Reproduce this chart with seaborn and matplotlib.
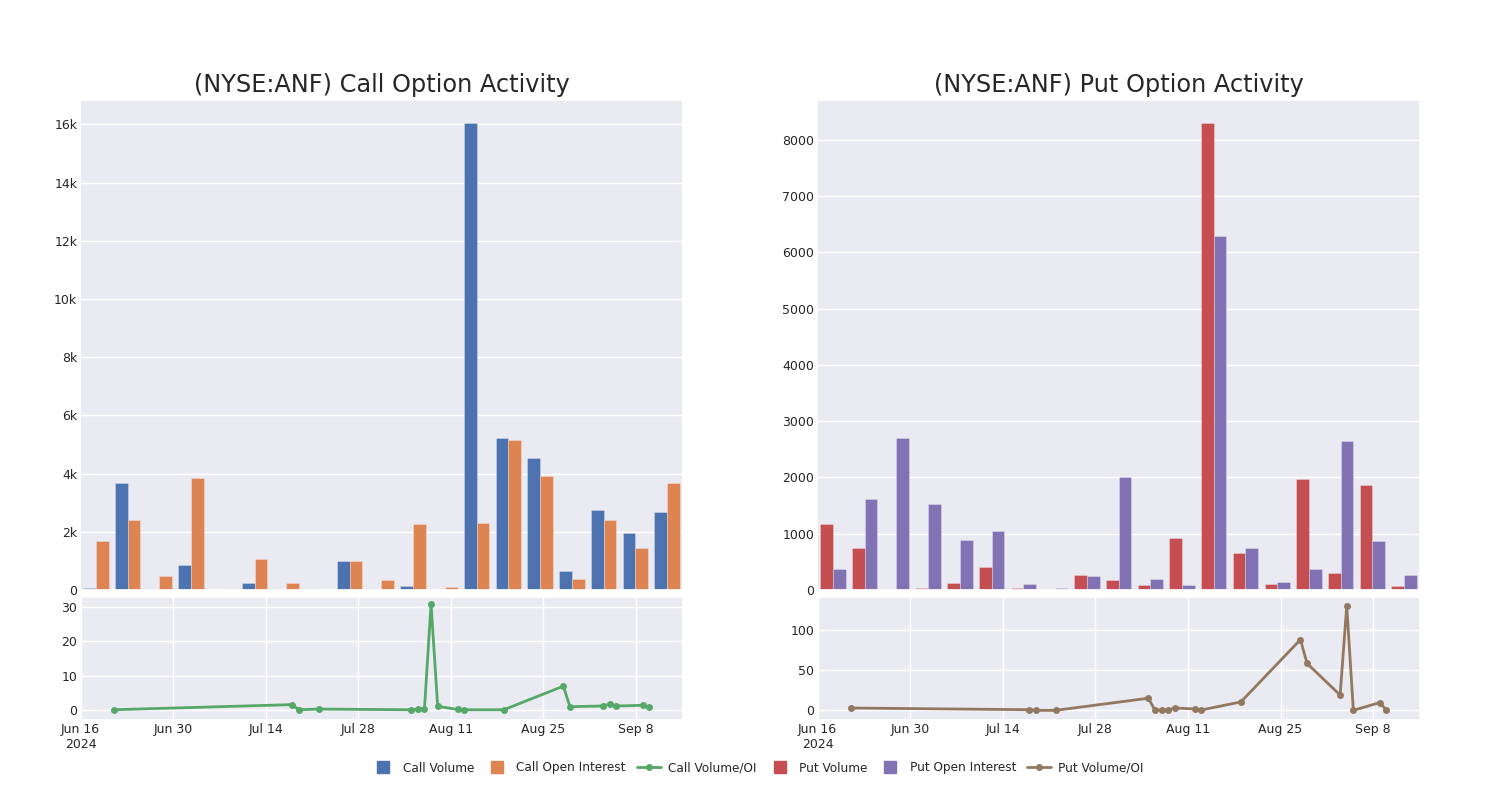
import matplotlib
matplotlib.use("Agg")
import matplotlib.pyplot as plt
from matplotlib.lines import Line2D
from matplotlib.ticker import FuncFormatter
import seaborn as sns
import pandas as pd

# trade dates (same for bars and ratio lines)
dates = ["2024-06-21", "2024-07-18", "2024-07-19", "2024-07-22", "2024-08-05",
         "2024-08-06", "2024-08-07", "2024-08-08", "2024-08-09", "2024-08-12",
         "2024-08-13", "2024-08-19", "2024-08-28", "2024-08-29", "2024-09-03",
         "2024-09-04", "2024-09-05", "2024-09-09", "2024-09-10"]

call_volume = [80, 3670, 20, 860, 0, 230, 45, 31, 1000, 45,
               130, 10, 16040, 5240, 4520, 665, 2740, 1960, 2680]
call_oi = [1690, 2410, 480, 3850, 35, 1080, 230, 1, 990, 330,
           2280, 115, 2290, 5170, 3910, 380, 2400, 1430, 3680]
call_ratio = [0.0, 1.5, 0.0, 0.2, 0.0, 0.2, 0.2, 31.0, 1.0, 0.1,
              0.0, 0.0, 6.9, 0.9, 1.1, 1.7, 1.1, 1.3, 0.7]

put_volume = [1170, 740, 10, 40, 120, 400, 30, 10, 260, 170,
              90, 930, 8290, 650, 110, 1980, 300, 1870, 70]
put_oi = [370, 1620, 2700, 1530, 890, 1040, 100, 40, 240, 2010,
          200, 80, 6280, 750, 140, 370, 2650, 870, 270]
put_ratio = [2.9, 0.8, 0.0, 0.0, 15.1, 0.4, 0.4, 0.4, 3.0, 1.7,
             0.4, 10.5, 88.0, 58.4, 19.0, 130.0, 0.0, 9.7, 0.3]

date_ticks = ["2024-06-16", "2024-06-30", "2024-07-14", "2024-07-28",
              "2024-08-11", "2024-08-25", "2024-09-08"]
date_tick_labels = ["Jun 16\n2024", "Jun 30", "Jul 14", "Jul 28",
                    "Aug 11", "Aug 25", "Sep 8"]

sns.set_theme(style="darkgrid")
pal = sns.color_palette("deep")

fig = plt.figure(figsize=(15, 8), dpi=100)


def draw_side(left, title, vol, oi, ratio, names, colors, ratio_ylim, yfmt):
    w = 0.402
    ax_bar = fig.add_axes([left, 0.2625, w, 0.6125])
    ax_line = fig.add_axes([left, 0.1, w, 0.15375])

    df = pd.DataFrame({
        "date": dates * 2,
        "value": vol + oi,
        "series": [names[0]] * len(dates) + [names[1]] * len(dates),
    })
    sns.barplot(data=df, x="date", y="value", hue="series", ax=ax_bar,
                palette=colors[:2], saturation=1, legend=False,
                edgecolor=(1, 1, 1, 0.5), linewidth=0.4)
    ax_bar.set_title(title, fontsize=17.3)
    ax_bar.set_xlabel("")
    ax_bar.set_ylabel("")
    ax_bar.set_xticks([0, 5, 10, 15])
    ax_bar.set_xticklabels([])
    ax_bar.tick_params(labelsize=9, length=0, pad=2)
    if yfmt is not None:
        ax_bar.yaxis.set_major_formatter(yfmt)

    ldf = pd.DataFrame({"date": pd.to_datetime(dates), "ratio": ratio})
    sns.lineplot(data=ldf, x="date", y="ratio", ax=ax_line, color=colors[2],
                 marker="o", markersize=5, markeredgewidth=0, linewidth=2)
    ax_line.set_xlim(pd.Timestamp("2024-06-15 22:00"), pd.Timestamp("2024-09-15 02:00"))
    ax_line.set_ylim(*ratio_ylim)
    ax_line.set_xticks(pd.to_datetime(date_ticks))
    ax_line.set_xticklabels(date_tick_labels)
    ax_line.set_xlabel("")
    ax_line.set_ylabel("")
    ax_line.tick_params(labelsize=9, length=0, pad=2)


kfmt = FuncFormatter(lambda v, p: "0" if v == 0 else f"{v / 1000:.0f}k")

draw_side(0.0533, "(NYSE:ANF) Call Option Activity", call_volume, call_oi, call_ratio,
          ["Call Volume", "Call Open Interest"], [pal[0], pal[1], pal[2]], (-3, 33), kfmt)
draw_side(0.5447, "(NYSE:ANF) Put Option Activity", put_volume, put_oi, put_ratio,
          ["Put Volume", "Put Open Interest"], [pal[3], pal[4], pal[5]], (-12, 141), None)

handles = [
    Line2D([], [], marker="s", ls="", color=pal[0], markersize=9),
    Line2D([], [], marker="s", ls="", color=pal[1], markersize=9),
    Line2D([], [], marker="o", color=pal[2], markersize=4, lw=2),
    Line2D([], [], marker="s", ls="", color=pal[3], markersize=9),
    Line2D([], [], marker="s", ls="", color=pal[4], markersize=9),
    Line2D([], [], marker="o", color=pal[5], markersize=4, lw=2),
]
labels = ["Call Volume", "Call Open Interest", "Call Volume/OI",
          "Put Volume", "Put Open Interest", "Put Volume/OI"]
fig.legend(handles, labels, loc="center", bbox_to_anchor=(0.505, 0.04), ncol=6,
           frameon=False, fontsize=8.7, handlelength=2, handletextpad=0.6,
           columnspacing=0.9)

fig.savefig("out.png", dpi=100)
